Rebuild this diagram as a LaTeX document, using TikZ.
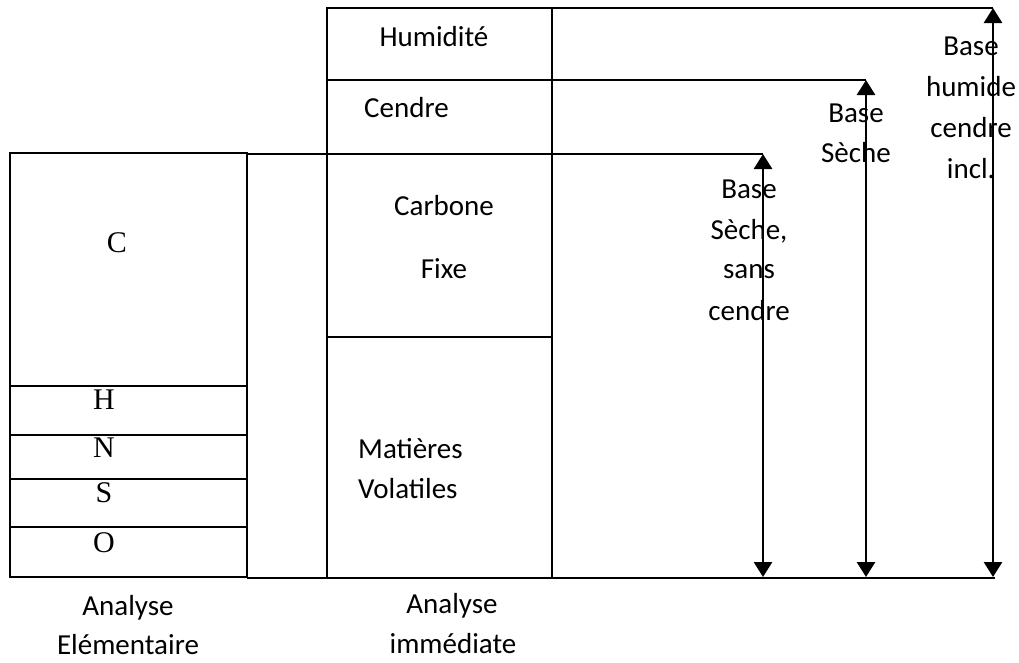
\documentclass[tikz,border=0pt]{standalone}
\usepackage{fontspec}
\setmainfont{Carlito}
\newfontfamily\tnr{Liberation Serif}
\usetikzlibrary{arrows.meta}
\begin{document}
\begin{tikzpicture}[x=1pt,y=-1pt,
  boxline/.style={line width=1.8pt},
  dimarrow/.style={line width=2.8pt,{Triangle[width=18pt,length=15pt]}-{Triangle[width=18pt,length=15pt]}},
  lbl/.style={font=\fontsize{29}{38}\selectfont,inner sep=0pt,anchor=base},
  lblw/.style={lbl,anchor=base west},
  elem/.style={font=\tnr\fontsize{30}{36}\selectfont,inner sep=0pt,anchor=base}]
\useasboundingbox (0,0) rectangle (1019,662);
% left box (elemental analysis)
\draw[boxline] (10,153) rectangle (247,577);
\draw[boxline] (10,386) -- (247,386);
\draw[boxline] (10,435) -- (247,435);
\draw[boxline] (10,479) -- (247,479);
\draw[boxline] (10,527) -- (247,527);
% strip and middle column
\draw[boxline] (247,153) -- (247,578);
\draw[boxline] (327,8) rectangle (552,578);
\draw[boxline] (327,80) -- (552,80);
\draw[boxline] (327,337) -- (552,337);
% coordinates for levels
\coordinate (t1) at (993,8);
\coordinate (t2) at (866,80);
\coordinate (t3) at (763,154);
\coordinate (b1) at (993,577);
\coordinate (b2) at (866,577);
\coordinate (b3) at (763,577);
\coordinate (bl) at (247,578);
\coordinate (br) at (995,578);
\coordinate (l3) at (247,154);
% horizontal level lines
\draw[boxline] (552,8) -- (t1);
\draw[boxline] (552,80) -- (t2);
\draw[boxline] (l3) -- (t3);
\draw[boxline] (bl) -- (br);
% arrows
\draw[dimarrow] (t3) -- (b3);
\draw[dimarrow] (t2) -- (b2);
\draw[dimarrow] (t1) -- (b1);
% element letters
\node[elem] (c) at (117,252) {C};
\node[elem] (h) at (104,409) {H};
\node[elem] (n) at (104,457) {N};
\node[elem] (s) at (104,502) {S};
\node[elem] (o) at (104,552) {O};
% middle column texts
\node[lbl] (hum) at (434,46) {Humidité};
\node[lblw] (cen) at (364,117) {Cendre};
\node[lbl] (carb) at (444,215) {Carbone};
\node[lbl] (fixe) at (444,278) {Fixe};
\node[lblw] (mat) at (358,458) {Matières};
\node[lblw] (vol) at (358,498) {Volatiles};
% bottom labels
\node[lbl] (ae1) at (128,615) {Analyse};
\node[lbl] (ae2) at (128,654) {Elémentaire};
\node[lbl] (ai1) at (452,613) {Analyse};
\node[lbl] (ai2) at (453,653) {immédiate};
% base labels
\node[lbl] (bh1) at (971,55) {Base};
\node[lbl] (bh2) at (971,96) {humide};
\node[lbl] (bh3) at (971,137) {cendre};
\node[lbl] (bh4) at (971,178) {incl.};
\node[lbl] (bs1) at (856,122) {Base};
\node[lbl] (bs2) at (856,162) {Sèche};
\node[lbl] (bc1) at (749,198) {Base};
\node[lbl] (bc2) at (749,239) {Sèche,};
\node[lbl] (bc3) at (749,278) {sans};
\node[lbl] (bc4) at (749,320) {cendre};
\end{tikzpicture}
\end{document}
